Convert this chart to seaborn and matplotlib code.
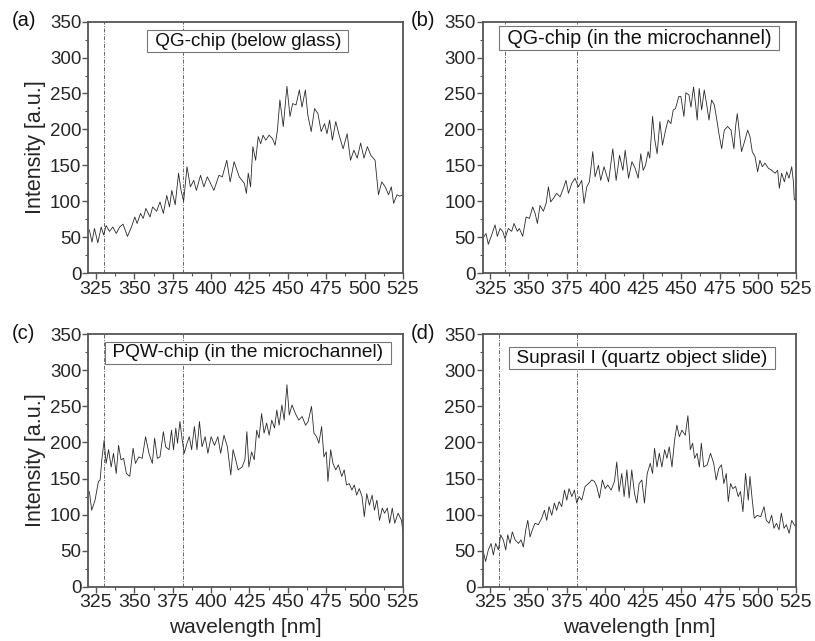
import matplotlib
matplotlib.use("Agg")
import matplotlib.pyplot as plt
import seaborn as sns
import pandas as pd
from matplotlib.ticker import MultipleLocator

# ---------------- data ----------------
wl_a = [320.7, 322.4, 324.0, 326.2, 328.4, 330.0, 331.6, 333.8, 336.0, 338.2, 340.4, 342.6,
        345.5, 348.1, 350.3, 351.8, 354.0, 355.8, 357.5, 360.2, 361.9, 364.5, 366.7, 368.9,
        371.1, 372.9, 374.4, 376.6, 378.8, 380.4, 382.1, 384.3, 386.5, 388.7, 390.4, 393.1,
        395.3, 397.5, 399.6, 401.8, 405.1, 407.3, 410.2, 412.4, 415.0, 418.3, 421.6, 423.0,
        424.2, 425.7, 427.2, 429.0, 430.7, 432.3, 433.8, 435.6, 437.8, 440.0, 441.7, 443.2,
        444.8, 447.0, 449.4, 451.4, 453.1, 455.3, 457.5, 459.2, 461.4, 463.0, 465.2, 467.4,
        469.6, 471.7, 473.9, 475.5, 477.2, 479.0, 481.2, 483.4, 486.0, 488.6, 490.8, 493.0,
        495.2, 497.4, 499.6, 501.8, 504.0, 506.8, 509.0, 511.2, 513.4, 515.6, 517.4, 518.9,
        521.1, 522.8, 525.0]
int_a = [60, 43, 62, 42, 64, 53, 66, 58, 64, 55, 64, 68,
         51, 64, 78, 69, 83, 76, 90, 78, 92, 86, 99, 83,
         108, 92, 115, 95, 139, 115, 100, 148, 120, 129, 115, 136,
         120, 134, 125, 115, 136, 134, 157, 127, 155, 134, 125, 111,
         139, 120, 176, 157, 190, 180, 192, 185, 192, 187, 178, 199,
         241, 204, 260, 218, 236, 234, 255, 231, 255, 220, 197, 229,
         222, 197, 208, 194, 213, 185, 211, 192, 173, 194, 157, 171,
         160, 181, 160, 176, 164, 157, 109, 127, 120, 109, 120, 97,
         109, 107, 109]

wl_b = [320.1, 322.3, 323.8, 326.0, 328.2, 329.7, 331.5, 333.2, 334.7, 336.9, 339.1, 340.6,
        342.8, 344.1, 346.3, 348.5, 350.7, 352.8, 354.4, 355.9, 357.6, 359.8, 361.6, 363.1,
        364.6, 366.4, 368.5, 370.7, 372.9, 374.6, 376.2, 378.4, 380.5, 382.7, 384.9, 386.4,
        388.2, 389.9, 392.1, 393.6, 395.8, 397.3, 399.5, 402.4, 405.2, 407.4, 409.6, 411.8,
        413.3, 415.5, 417.7, 419.8, 421.8, 423.5, 425.1, 426.6, 428.3, 429.4, 431.2, 432.7,
        434.2, 436.0, 437.7, 439.7, 441.4, 443.2, 444.7, 446.2, 448.4, 449.7, 451.7, 453.0,
        455.0, 456.3, 458.0, 459.3, 460.4, 461.7, 463.3, 465.0, 466.5, 468.1, 469.8, 471.6,
        473.1, 474.6, 476.4, 478.1, 480.3, 482.5, 484.4, 485.5, 486.6, 487.9, 489.4, 491.6,
        493.4, 494.9, 496.4, 498.2, 499.9, 501.4, 503.0, 504.7, 506.9, 509.1, 511.3, 513.0,
        514.1, 515.6, 517.4, 518.9, 520.4, 522.2, 523.3, 523.9, 525.0]
int_b = [48, 55, 40, 53, 67, 51, 62, 58, 48, 62, 58, 69,
         58, 62, 51, 78, 76, 92, 83, 69, 94, 86, 97, 120,
         99, 104, 111, 106, 118, 129, 111, 125, 132, 120, 129, 97,
         120, 127, 169, 134, 150, 129, 148, 127, 173, 129, 164, 143,
         171, 132, 155, 146, 132, 166, 143, 150, 169, 160, 218, 185,
         166, 211, 178, 199, 213, 208, 227, 229, 246, 246, 218, 251,
         248, 231, 259, 236, 213, 257, 227, 255, 236, 213, 241, 234,
         215, 194, 173, 199, 204, 199, 173, 204, 222, 197, 169, 185,
         199, 190, 169, 162, 141, 157, 148, 153, 146, 143, 139, 143,
         118, 139, 127, 141, 132, 148, 127, 102, 102]

wl_c = [320.7, 322.2, 324.4, 326.6, 327.7, 328.8, 330.3, 331.6, 333.2, 334.9, 336.4, 338.2,
        339.7, 341.3, 343.0, 344.8, 347.0, 349.2, 350.7, 352.9, 355.1, 357.3, 359.5, 361.7,
        363.2, 365.0, 366.7, 368.9, 370.4, 372.6, 374.2, 375.5, 377.0, 378.1, 379.7, 381.0,
        382.5, 384.3, 385.8, 387.3, 389.1, 390.8, 392.4, 394.1, 396.1, 397.9, 400.0, 402.2,
        404.4, 406.2, 408.4, 410.6, 412.8, 414.3, 415.8, 417.6, 420.2, 422.0, 423.3, 424.6,
        426.4, 428.1, 429.7, 431.2, 432.9, 434.5, 436.2, 437.8, 439.5, 441.3, 442.8, 444.3,
        446.1, 447.6, 449.4, 450.9, 452.7, 454.9, 457.1, 459.3, 461.5, 463.2, 465.4, 467.0,
        468.7, 470.2, 472.0, 473.5, 475.0, 476.1, 477.9, 479.4, 481.2, 482.9, 485.1, 486.7,
        488.2, 490.0, 491.7, 493.3, 494.8, 496.5, 498.3, 499.8, 501.4, 503.1, 504.9, 506.4,
        508.0, 509.7, 511.5, 513.0, 514.8, 516.3, 518.0, 519.6, 521.8, 524.0, 525.0]
int_c = [132, 106, 120, 146, 148, 176, 203, 171, 190, 166, 185, 157,
         196, 176, 178, 157, 153, 192, 171, 180, 178, 208, 185, 171,
         206, 178, 180, 215, 194, 190, 217, 190, 220, 199, 229, 206,
         185, 199, 208, 190, 222, 190, 229, 194, 208, 185, 208, 196,
         208, 185, 210, 194, 155, 190, 178, 162, 166, 176, 215, 166,
         187, 176, 217, 206, 240, 213, 227, 210, 231, 220, 245, 224,
         252, 231, 280, 238, 252, 240, 231, 236, 224, 229, 250, 213,
         208, 199, 222, 180, 187, 146, 190, 171, 162, 169, 153, 162,
         141, 143, 134, 141, 127, 136, 125, 97, 129, 113, 127, 106,
         120, 92, 109, 102, 109, 88, 109, 88, 102, 92, 75]

wl_d = [320.5, 322.0, 323.8, 325.6, 327.1, 328.6, 330.4, 331.9, 333.6, 335.2, 336.5, 338.0,
        339.5, 341.3, 343.5, 345.2, 346.7, 348.3, 349.6, 351.1, 352.6, 354.4, 356.5, 358.7,
        360.5, 362.0, 363.5, 365.3, 367.0, 368.5, 370.1, 371.8, 373.6, 375.1, 376.6, 378.4,
        380.1, 381.6, 383.2, 384.9, 387.1, 389.3, 391.5, 393.2, 394.7, 396.5, 398.4, 400.2,
        401.9, 404.1, 406.3, 407.8, 409.3, 411.1, 412.6, 414.4, 415.9, 417.6, 419.4, 420.9,
        422.4, 424.2, 425.9, 427.7, 429.7, 431.2, 432.5, 434.1, 435.6, 437.3, 439.1, 440.6,
        442.1, 443.9, 445.6, 447.1, 448.7, 450.4, 452.6, 454.3, 455.9, 457.4, 458.7, 460.3,
        461.8, 463.1, 464.7, 466.9, 469.1, 471.2, 472.8, 474.5, 476.3, 477.8, 479.4, 480.7,
        482.2, 483.7, 485.5, 487.2, 488.7, 490.3, 492.0, 493.8, 494.9, 496.4, 497.7, 499.7,
        501.9, 504.1, 505.6, 507.4, 509.1, 510.6, 512.2, 513.9, 515.4, 517.2, 518.7, 520.5,
        522.2, 523.8, 525.0]
int_d = [49, 35, 51, 60, 44, 60, 51, 72, 65, 51, 72, 60,
         76, 65, 60, 65, 55, 79, 92, 69, 79, 88, 86, 95,
         106, 92, 111, 99, 116, 106, 118, 111, 134, 120, 136, 125,
         134, 116, 125, 120, 139, 143, 148, 146, 139, 123, 148, 136,
         141, 134, 146, 173, 132, 157, 125, 162, 123, 162, 129, 116,
         143, 148, 116, 157, 171, 157, 192, 166, 185, 166, 190, 178,
         194, 166, 203, 224, 208, 217, 210, 237, 190, 199, 178, 185,
         166, 199, 166, 169, 185, 171, 148, 164, 169, 143, 157, 118,
         143, 136, 139, 125, 132, 104, 157, 120, 153, 120, 95, 99,
         97, 111, 92, 88, 99, 81, 88, 79, 102, 81, 86, 74,
         92, 86, 83]

panel_tags = ["(a)", "(b)", "(c)", "(d)"]
panel_titles = ["QG-chip (below glass)", "QG-chip (in the microchannel)",
                "PQW-chip (in the microchannel)", "Suprasil I (quartz object slide)"]
marker_lines = [[330.5, 382.0], [335.0, 381.5], [330.5, 382.0], [330.5, 381.5]]
x_ticks = [325, 350, 375, 400, 425, 450, 475, 500, 525]
y_ticks = [0, 50, 100, 150, 200, 250, 300, 350]
x_label = "wavelength [nm]"
y_label = "Intensity [a.u.]"

series = [(wl_a, int_a), (wl_b, int_b), (wl_c, int_c), (wl_d, int_d)]

# ---------------- styling ----------------
sns.set_style("ticks")
plt.rcParams["font.family"] = ["Liberation Sans", "DejaVu Sans"]

W, H = 815, 641
fig = plt.figure(figsize=(W / 100, H / 100), dpi=100)

# axes rectangles in pixels: (left, top, right, bottom)
rects = [(88.3, 21.7, 403.0, 273.0), (482.5, 21.7, 796.0, 273.0),
         (88.3, 334.3, 403.0, 586.7), (482.5, 334.3, 796.0, 586.7)]
box_pos = [(0.507, 0.923), (0.50, 0.935), (0.507, 0.926), (0.509, 0.906)]
title_size = [13.6, 14.2, 13.8, 13.8]
tag_x = [12, 411, 12, 411]

spine_col = "#555555"
for i, (wl, inten) in enumerate(series):
    l, t, r, b = rects[i]
    ax = fig.add_axes([l / W, 1 - b / H, (r - l) / W, (b - t) / H])
    df = pd.DataFrame({"wl": wl, "I": inten})
    sns.lineplot(data=df, x="wl", y="I", ax=ax, color="#2a2a2a", lw=0.6,
                 estimator=None, sort=False)
    for xv in marker_lines[i]:
        ax.axvline(xv, color="#666666", lw=0.7, ls=(0, (4, 1.5, 1, 1.5)), zorder=1)
    ax.set_xlim(320, 525)
    ax.set_ylim(0, 350)
    ax.set_xticks(x_ticks)
    ax.set_yticks(y_ticks)
    ax.xaxis.set_minor_locator(MultipleLocator(12.5))
    ax.yaxis.set_minor_locator(MultipleLocator(25))
    ax.tick_params(axis="both", which="major", direction="out", length=4,
                   width=1.0, color=spine_col, pad=1)
    ax.tick_params(axis="both", which="minor", direction="out", length=2.5,
                   width=0.8, color=spine_col)
    ax.tick_params(axis="x", which="major", labelsize=14, pad=1.5)
    ax.tick_params(axis="y", which="major", labelsize=13.5, pad=1)
    for s in ax.spines.values():
        s.set_visible(True)
        s.set_color(spine_col)
        s.set_linewidth(1.3)
    ax.set_xlabel(x_label if i >= 2 else "", fontsize=15, labelpad=5)
    ax.set_ylabel(y_label if i % 2 == 0 else "", fontsize=15.5, labelpad=3)
    bx, by = box_pos[i]
    ax.text(bx, by, " " + panel_titles[i] + " ", transform=ax.transAxes, ha="center",
            va="center", fontsize=title_size[i], color="#111111", zorder=5,
            bbox=dict(boxstyle="square,pad=0.12", fc="white", ec="#777777", lw=0.8))
    fig.text(tag_x[i] / W, 1 - (t - 1) / H, panel_tags[i], fontsize=14.5,
             ha="left", va="center", color="#111111")

fig.savefig("out.png", dpi=100)
